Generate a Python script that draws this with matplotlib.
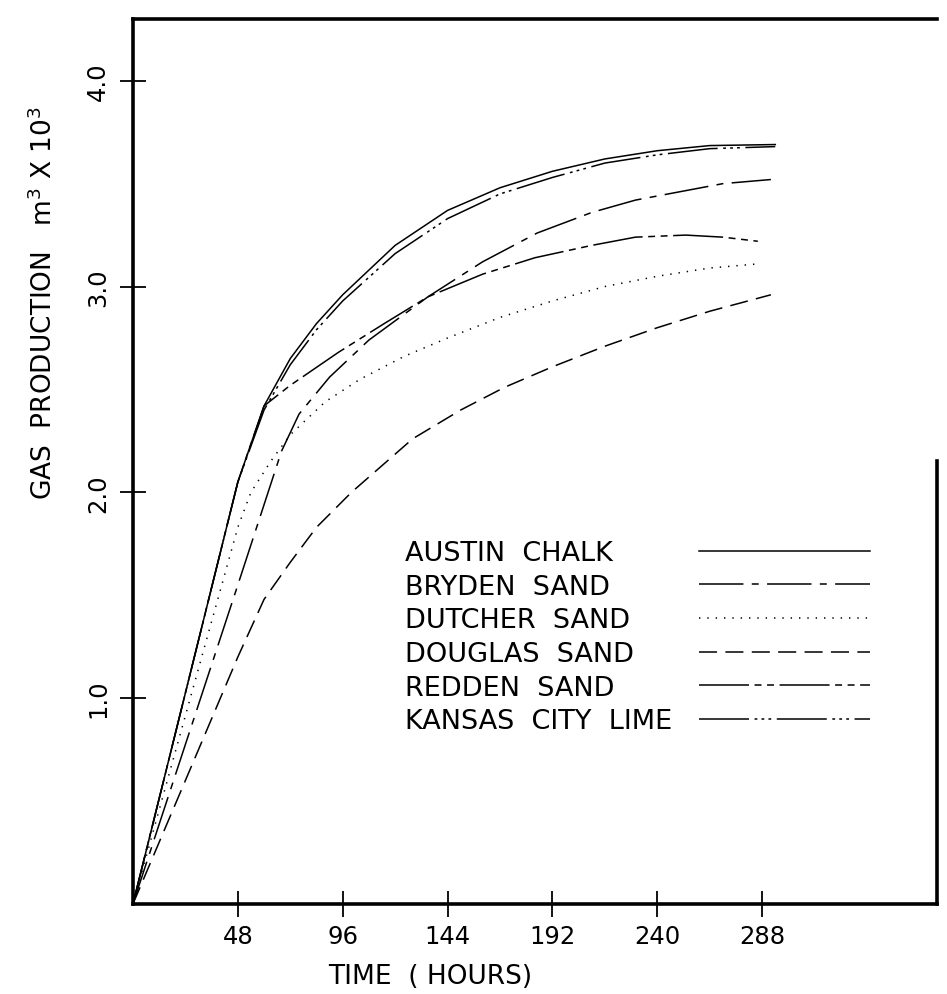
import matplotlib
matplotlib.use("Agg")
import matplotlib.pyplot as plt

# -----------------------------
# data (hours, m3 x 10^3)
# -----------------------------
austin_t = [0, 48, 60, 72, 84, 96, 120, 144, 168, 192, 216, 240, 264, 294]
austin_v = [0, 2.05, 2.42, 2.65, 2.82, 2.96, 3.20, 3.37, 3.48, 3.56, 3.62, 3.66, 3.685, 3.69]

bryden_t = [0, 48, 68, 76, 90, 108, 135, 160, 185, 210, 230, 250, 270, 292]
bryden_v = [0, 1.55, 2.20, 2.38, 2.56, 2.74, 2.95, 3.12, 3.26, 3.36, 3.42, 3.46, 3.50, 3.52]

dutcher_t = [0, 48, 54, 63, 72, 88, 104, 124, 144, 168, 192, 216, 240, 264, 286]
dutcher_v = [0, 1.83, 2.00, 2.15, 2.28, 2.44, 2.55, 2.66, 2.75, 2.85, 2.93, 3.00, 3.05, 3.09, 3.11]

douglas_t = [0, 48, 60, 72, 84, 100, 128, 150, 170, 192, 216, 240, 264, 292]
douglas_v = [0, 1.20, 1.48, 1.66, 1.83, 2.00, 2.26, 2.40, 2.51, 2.61, 2.71, 2.80, 2.88, 2.96]

redden_t = [0, 48, 60, 72, 94, 115, 135, 160, 184, 210, 230, 253, 270, 286]
redden_v = [0, 2.05, 2.42, 2.52, 2.68, 2.82, 2.95, 3.06, 3.14, 3.20, 3.24, 3.25, 3.24, 3.22]

kansas_t = [0, 48, 60, 72, 84, 96, 120, 144, 168, 192, 216, 240, 264, 294]
kansas_v = [0, 2.05, 2.40, 2.62, 2.79, 2.93, 3.16, 3.33, 3.45, 3.53, 3.60, 3.64, 3.67, 3.68]

labels = ["AUSTIN  CHALK", "BRYDEN  SAND", "DUTCHER  SAND",
          "DOUGLAS  SAND", "REDDEN  SAND", "KANSAS  CITY  LIME"]

x_ticks = [48, 96, 144, 192, 240, 288]
y_ticks = [1.0, 2.0, 3.0, 4.0]

# -----------------------------
# figure
# -----------------------------
plt.rcParams['font.family'] = ['DejaVu Sans']
plt.rcParams['lines.scale_dashes'] = False

fig = plt.figure(figsize=(9.47, 9.95), dpi=100)
ax = fig.add_axes([0.1404, 0.0905, 0.849, 0.8894])

lw = 1.1
styles = [
    dict(linestyle='-'),
    dict(dashes=[32, 6, 5, 6]),
    dict(dashes=[1, 5]),
    dict(dashes=[13, 6]),
    dict(dashes=[36, 4, 5, 4, 5, 4]),
    dict(dashes=[36, 4, 2, 3, 2, 3, 2, 4]),
]
series = [(austin_t, austin_v), (bryden_t, bryden_v), (dutcher_t, dutcher_v),
          (douglas_t, douglas_v), (redden_t, redden_v), (kansas_t, kansas_v)]

for (t, v), lab, st in zip(series, labels, styles):
    ax.plot(t, v, color='black', lw=lw, label=lab, **st)

ax.set_xlim(0, 368)
ax.set_ylim(0, 4.3)

ax.set_xticks(x_ticks)
ax.set_xticklabels([str(x) for x in x_ticks])
ax.set_yticks(y_ticks)
ax.set_yticklabels([f"{y:.1f}" for y in y_ticks], rotation=90, va='center')

ax.tick_params(direction='inout', length=19, width=1.3, labelsize=17.5)
ax.tick_params(axis='x', pad=5)
ax.tick_params(axis='y', pad=7)

for s in ax.spines.values():
    s.set_linewidth(2.6)
ax.spines['right'].set_bounds(0, 2.15)

ax.set_xlabel("TIME  ( HOURS)", fontsize=19)
ax.xaxis.set_label_coords(0.37, -0.067)
ax.set_ylabel("GAS  PRODUCTION   m$^3$ X 10$^3$", fontsize=19)
ax.yaxis.set_label_coords(-0.093, 0.68)

# legend: text on the left, line key on the right
leg = ax.legend(loc='upper left', bbox_to_anchor=(0.338, 0.411), frameon=False,
                markerfirst=False, handlelength=6.3, handletextpad=1.0,
                labelspacing=0.28, fontsize=19.5, borderpad=0, borderaxespad=0)
fig.canvas.draw()
r = fig.canvas.get_renderer()
widths = [tx.get_window_extent(r).width for tx in leg.get_texts()]
column = leg.get_children()[0].get_children()[1].get_children()[0]
for item, w in zip(column.get_children(), widths):
    item.sep += (max(widths) - w) * 72.0 / fig.dpi

fig.savefig("out.png", dpi=100)
